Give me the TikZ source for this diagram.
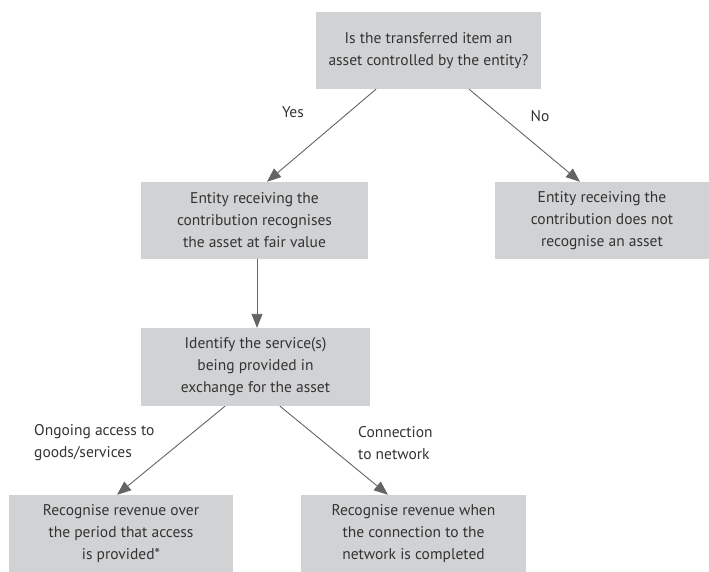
\documentclass[tikz,border=0pt]{standalone}
\usepackage{fontspec}
\setmainfont{PT Sans}
\usetikzlibrary{arrows.meta}
\definecolor{boxgray}{HTML}{D1D2D4}
\definecolor{txtgray}{HTML}{333333}
\definecolor{arrgray}{HTML}{636466}
\begin{document}
\begin{tikzpicture}[x=1pt,y=-1pt,
  box/.style={fill=boxgray, draw=none, align=center, inner sep=0pt, text=txtgray,
    font=\fontsize{15.5}{22}\selectfont},
  lbl/.style={text=txtgray, inner sep=0pt, font=\fontsize{15.5}{22}\selectfont},
  arr/.style={draw=arrgray, line width=0.9pt, -{Triangle[length=14pt,width=11pt]}, arrgray}]
\useasboundingbox (0,0) rectangle (709,572);
\node[box, minimum width=225pt, minimum height=77pt] (top) at (428.5,50.5)
  {Is the transferred item an\\asset controlled by the entity?};
\node[box, minimum width=227pt, minimum height=77pt] (left) at (254.5,220.5)
  {Entity receiving the\\contribution recognises\\the asset at fair value};
\node[box, minimum width=214pt, minimum height=77pt] (right) at (602,220.5)
  {Entity receiving the\\contribution does not\\recognise an asset};
\node[box, minimum width=229pt, minimum height=78pt] (mid) at (255.5,367)
  {Identify the service(s)\\being provided in\\exchange for the asset};
\node[box, minimum width=224pt, minimum height=77pt] (bl) at (121,533.5)
  {Recognise revenue over\\the period that access\\is provided*};
\node[box, minimum width=225pt, minimum height=77pt] (br) at (413.5,533.5)
  {Recognise revenue when\\the connection to the\\network is completed};
\node[lbl] (yes) at (293,112) {Yes};
\node[lbl] (no) at (540,116) {No};
\node[lbl, anchor=west, align=left] (ong) at (34,443) {Ongoing access to\\goods/services};
\node[lbl, anchor=west, align=left] (con) at (358,443) {Connection\\to network};
\draw[arr] ([xshift=-52.5pt]top.south) -- ([xshift=12.5pt]left.north);
\draw[arr] ([xshift=40.5pt]top.south) -- ([xshift=-22pt]right.north);
\draw[arr] ([xshift=2.5pt]left.south) -- ([xshift=1.5pt]mid.north);
\draw[arr] ([xshift=-30.5pt]mid.south) -- ([xshift=-4pt]bl.north);
\draw[arr] ([xshift=24.5pt]mid.south) -- ([xshift=-25.5pt]br.north);
\end{tikzpicture}
\end{document}
